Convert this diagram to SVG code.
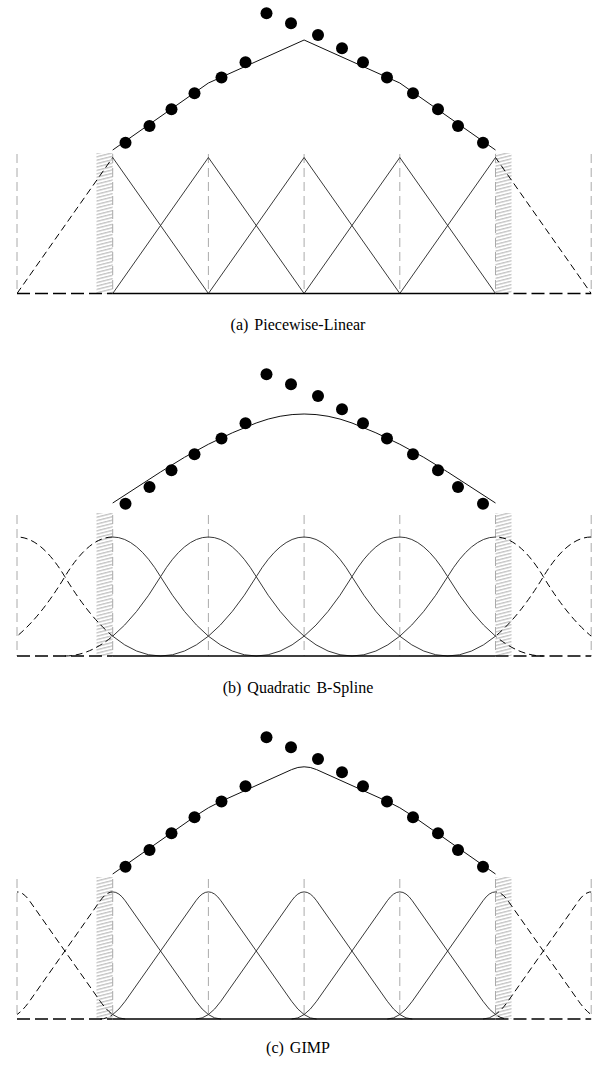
<svg xmlns="http://www.w3.org/2000/svg" xmlns:xlink="http://www.w3.org/1999/xlink" width="595" height="1066" viewBox="0 0 595 1066">
<style>
.solid{fill:none;stroke:#222;stroke-width:0.9}
.dash{fill:none;stroke:#000;stroke-width:1;stroke-dasharray:7 4}
.fit{fill:none;stroke:#111;stroke-width:1}
.grid{stroke:#aaa;stroke-width:1;stroke-dasharray:9 5;fill:none}
.base{stroke:#000;stroke-width:1.6;fill:none}
.based{stroke:#000;stroke-width:1.6;fill:none;stroke-dasharray:13 5}
.hatch{fill:url(#hatch)}
.dot{fill:#000}
.cap{font-family:"Liberation Serif","Times New Roman",serif;font-size:16px;word-spacing:2px;fill:#000;text-anchor:middle}
</style>
<defs>
<pattern id="hatch" patternUnits="userSpaceOnUse" width="16" height="3.4" patternTransform="skewY(-14)">
<rect x="0" y="0" width="16" height="1.4" fill="#c4c4c4"/>
</pattern>
<clipPath id="inner"><rect x="112.7" y="0" width="382.8" height="1066"/></clipPath>
<clipPath id="outer"><rect x="17" y="0" width="95.7" height="1066"/><rect x="495.5" y="0" width="95.7" height="1066"/></clipPath>
<g id="dots">
<circle class="dot" cx="125.5" cy="142.7" r="6"/>
<circle class="dot" cx="149.5" cy="126" r="6"/>
<circle class="dot" cx="171.5" cy="109.2" r="6"/>
<circle class="dot" cx="194.5" cy="93.3" r="6"/>
<circle class="dot" cx="221.5" cy="77.5" r="6"/>
<circle class="dot" cx="245.5" cy="62.3" r="6"/>
<circle class="dot" cx="266.5" cy="13.3" r="6"/>
<circle class="dot" cx="291" cy="23.3" r="6"/>
<circle class="dot" cx="318" cy="35" r="6"/>
<circle class="dot" cx="342" cy="48.3" r="6"/>
<circle class="dot" cx="363" cy="62.3" r="6"/>
<circle class="dot" cx="387" cy="77.5" r="6"/>
<circle class="dot" cx="413" cy="93.3" r="6"/>
<circle class="dot" cx="438" cy="109.2" r="6"/>
<circle class="dot" cx="458" cy="126" r="6"/>
<circle class="dot" cx="483" cy="142.7" r="6"/>
</g>
<g id="trisA">
<path d="M17,293.5 L112.7,157.5 L208.4,293.5"/>
<path d="M112.7,293.5 L208.4,157.5 L304.1,293.5"/>
<path d="M208.4,293.5 L304.1,157.5 L399.8,293.5"/>
<path d="M304.1,293.5 L399.8,157.5 L495.5,293.5"/>
<path d="M399.8,293.5 L495.5,157.5 L591.2,293.5"/>
</g>
<g id="bsB">
<path d="M-126.6,656 Q-78.7,656 -30.85,576.7 Q17,497.3 64.85,576.7 Q112.7,656 160.6,656"/>
<path d="M-30.9,656 Q17,656 64.85,576.7 Q112.7,497.3 160.55,576.7 Q208.4,656 256.3,656"/>
<path d="M64.8,656 Q112.7,656 160.55,576.7 Q208.4,497.3 256.25,576.7 Q304.1,656 352,656"/>
<path d="M160.5,656 Q208.4,656 256.25,576.7 Q304.1,497.3 351.95,576.7 Q399.8,656 447.7,656"/>
<path d="M256.2,656 Q304.1,656 351.95,576.7 Q399.8,497.3 447.65,576.7 Q495.5,656 543.4,656"/>
<path d="M351.9,656 Q399.8,656 447.65,576.7 Q495.5,497.3 543.35,576.7 Q591.2,656 639.1,656"/>
<path d="M447.6,656 Q495.5,656 543.35,576.7 Q591.2,497.3 639.05,576.7 Q687,656 734.8,656"/>
</g>
<g id="gC">
<path d="M-91.2,1019 Q-78.7,1019 -66.2,1001.24 L4.5,900.76 Q17,883 29.5,900.76 L100.2,1001.24 Q112.7,1019 125.2,1019"/>
<path d="M4.5,1019 Q17,1019 29.5,1001.24 L100.2,900.76 Q112.7,883 125.2,900.76 L195.9,1001.24 Q208.4,1019 220.9,1019"/>
<path d="M100.2,1019 Q112.7,1019 125.2,1001.24 L195.9,900.76 Q208.4,883 220.9,900.76 L291.6,1001.24 Q304.1,1019 316.6,1019"/>
<path d="M195.9,1019 Q208.4,1019 220.9,1001.24 L291.6,900.76 Q304.1,883 316.6,900.76 L387.3,1001.24 Q399.8,1019 412.3,1019"/>
<path d="M291.6,1019 Q304.1,1019 316.6,1001.24 L387.3,900.76 Q399.8,883 412.3,900.76 L483,1001.24 Q495.5,1019 508,1019"/>
<path d="M387.3,1019 Q399.8,1019 412.3,1001.24 L483,900.76 Q495.5,883 508,900.76 L578.7,1001.24 Q591.2,1019 603.7,1019"/>
<path d="M483,1019 Q495.5,1019 508,1001.24 L578.7,900.76 Q591.2,883 603.7,900.76 L674.4,1001.24 Q686.9,1019 699.4,1019"/>
</g>
</defs>

<!-- Panel (a) -->
<g id="panel-a">
<rect class="hatch" x="96.5" y="153" width="16.2" height="140.5"/>
<rect class="hatch" x="495.5" y="153" width="16" height="140.5"/>
<path class="grid" d="M17,154 V293.5 M112.7,154 V293.5 M208.4,154 V293.5 M304.1,154 V293.5 M399.8,154 V293.5 M495.5,154 V293.5 M591.2,154 V293.5"/>
<use xlink:href="#trisA" class="solid" clip-path="url(#inner)"/>
<use xlink:href="#trisA" class="dash" clip-path="url(#outer)"/>
<path class="based" d="M17,293.5 H112.7 M495.5,293.5 H591.2"/>
<path class="base" d="M112.7,293.5 H495.5"/>
<path class="fit" d="M112.7,150 L208.4,83 L304.1,40 L399.8,83 L495.5,150"/>
<use xlink:href="#dots"/>
<text class="cap" x="298" y="330">(a) Piecewise-Linear</text>
</g>

<!-- Panel (b) -->
<g id="panel-b">
<rect class="hatch" x="96.5" y="513" width="16.2" height="143"/>
<rect class="hatch" x="495.5" y="513" width="16" height="143"/>
<path class="grid" d="M17,515 V656 M112.7,515 V656 M208.4,515 V656 M304.1,515 V656 M399.8,515 V656 M495.5,515 V656 M591.2,515 V656"/>
<use xlink:href="#bsB" class="solid" clip-path="url(#inner)"/>
<use xlink:href="#bsB" class="dash" clip-path="url(#outer)"/>
<path class="based" d="M17,656 H112.7 M495.5,656 H591.2"/>
<path class="base" d="M112.7,656 H495.5"/>
<path class="fit" d="M112.7,503 Q136.6,487.5 160.5,472 Q208.4,441 256.2,423 Q304.1,405 352,423 Q399.8,441 447.7,472 Q471.6,487.5 495.5,503"/>
<use xlink:href="#dots" y="361"/>
<text class="cap" x="298" y="693">(b) Quadratic B-Spline</text>
</g>

<!-- Panel (c) -->
<g id="panel-c">
<rect class="hatch" x="96.5" y="877" width="16.2" height="142"/>
<rect class="hatch" x="495.5" y="877" width="16" height="142"/>
<path class="grid" d="M17,879 V1019 M112.7,879 V1019 M208.4,879 V1019 M304.1,879 V1019 M399.8,879 V1019 M495.5,879 V1019 M591.2,879 V1019"/>
<use xlink:href="#gC" class="solid" clip-path="url(#inner)"/>
<use xlink:href="#gC" class="dash" clip-path="url(#outer)"/>
<path class="based" d="M17,1019 H112.7 M495.5,1019 H591.2"/>
<path class="base" d="M112.7,1019 H495.5"/>
<path class="fit" d="M112.7,874 L195.9,815.75 Q208.4,807 220.9,801.4 L291.6,769.6 Q304.1,764 316.6,769.6 L387.3,801.4 Q399.8,807 412.3,815.75 L495.5,874"/>
<use xlink:href="#dots" y="724"/>
<text class="cap" x="298" y="1053">(c) GIMP</text>
</g>
</svg>
